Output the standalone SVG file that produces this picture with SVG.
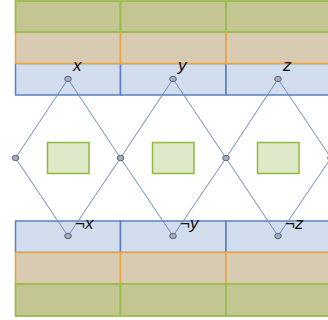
<svg xmlns="http://www.w3.org/2000/svg" width="328" height="320" viewBox="0 0 328 320">
<style>
.b{fill:#d1dcec;stroke:#5b80bd;stroke-width:1.5}
.t{fill:#d9cbb2;stroke:#eda23a;stroke-width:1.5}
.g{fill:#c4c692;stroke:#9bbb4f;stroke-width:1.8}
.r{fill:#dfe8c8;stroke:#93b83f;stroke-width:1.5}
.n{fill:#a3aec4;stroke:#5c6372;stroke-width:1}
.e{stroke:#6f8cbc;stroke-width:1;fill:none}
.l{font-family:"Liberation Sans",Arial,sans-serif;font-style:italic;font-size:17px;fill:#111}
</style>
<g id="top-band">
<rect class="b" x="15.5" y="63.5" width="105" height="31.5"/><rect class="b" x="120.5" y="63.5" width="105.5" height="31.5"/><rect class="b" x="226" y="63.5" width="105" height="31.5"/>
<rect class="t" x="15.5" y="32" width="105" height="31.5"/><rect class="t" x="120.5" y="32" width="105.5" height="31.5"/><rect class="t" x="226" y="32" width="105" height="31.5"/>
<rect class="g" x="15.5" y="1" width="105" height="31"/><rect class="g" x="120.5" y="1" width="105.5" height="31"/><rect class="g" x="226" y="1" width="105" height="31"/>
</g>
<g id="bottom-band">
<rect class="b" x="15.5" y="221" width="105" height="31.5"/><rect class="b" x="120.5" y="221" width="105.5" height="31.5"/><rect class="b" x="226" y="221" width="105" height="31.5"/>
<rect class="t" x="15.5" y="252.5" width="105" height="31.5"/><rect class="t" x="120.5" y="252.5" width="105.5" height="31.5"/><rect class="t" x="226" y="252.5" width="105" height="31.5"/>
<rect class="g" x="15.5" y="284" width="105" height="32"/><rect class="g" x="120.5" y="284" width="105.5" height="32"/><rect class="g" x="226" y="284" width="105" height="32"/>
</g>
<g id="connectors">
<path class="e" d="M68,79 L15.5,158 L68,236 L120.5,158 Z"/>
<path class="e" d="M173,79 L120.5,158 L173,236 L226,158 Z"/>
<path class="e" d="M278,79 L226,158 L278,236 L331,158 Z"/>
</g>
<g id="box1"><rect class="r" x="47.5" y="142.5" width="41.5" height="31"/></g>
<g id="box2"><rect class="r" x="152.5" y="142.5" width="41.5" height="31"/></g>
<g id="box3"><rect class="r" x="257.5" y="142.5" width="41.5" height="31"/></g>
<g id="node-x"><ellipse class="n" cx="68" cy="79" rx="3.3" ry="2.7"/><text class="l" x="73" y="71">x</text></g>
<g id="node-y"><ellipse class="n" cx="173" cy="79" rx="3.3" ry="2.7"/><text class="l" x="178" y="71">y</text></g>
<g id="node-z"><ellipse class="n" cx="278" cy="79" rx="3.3" ry="2.7"/><text class="l" x="283" y="71">z</text></g>
<g id="node-nx"><ellipse class="n" cx="68" cy="236" rx="3.3" ry="2.7"/><text class="l" x="75" y="229">¬x</text></g>
<g id="node-ny"><ellipse class="n" cx="173" cy="236" rx="3.3" ry="2.7"/><text class="l" x="180" y="229">¬y</text></g>
<g id="node-nz"><ellipse class="n" cx="278" cy="236" rx="3.3" ry="2.7"/><text class="l" x="285" y="229">¬z</text></g>
<g id="node-m0"><ellipse class="n" cx="15.5" cy="158" rx="3.3" ry="2.7"/></g>
<g id="node-m1"><ellipse class="n" cx="120.5" cy="158" rx="3.3" ry="2.7"/></g>
<g id="node-m2"><ellipse class="n" cx="226" cy="158" rx="3.3" ry="2.7"/></g>
<g id="node-m3"><ellipse class="n" cx="331" cy="158" rx="3.3" ry="2.7"/></g>
</svg>
